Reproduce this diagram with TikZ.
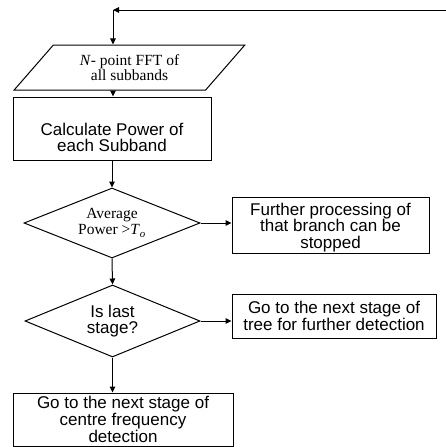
\documentclass[tikz,border=0pt]{standalone}
\usepackage{fontspec}
\setmainfont{Liberation Serif}
\newfontfamily\arialfont{Liberation Sans}
\usetikzlibrary{shapes.geometric,arrows.meta}
\tikzset{
  base/.style={draw=black, line width=1pt, align=center, inner sep=0pt},
  sansbox/.style={base, rectangle, font=\arialfont\fontsize{17}{16.7}\selectfont},
  serifbox/.style={base, font=\fontsize{15.5}{14.5}\selectfont},
  decision/.style={base, diamond, shape aspect=2.5},
  flow/.style={draw=black, line width=1pt, -{Stealth[length=6pt,width=5.5pt,inset=0pt]}}
}
\begin{document}
\begin{tikzpicture}
\fill[white] (0pt,0pt) rectangle (446pt,-447pt);
\useasboundingbox (0pt,0pt) rectangle (446pt,-447pt);
\coordinate (in) at (447pt,-10pt);
\coordinate (c) at (113pt,-10pt);
\node[serifbox, trapezium, trapezium left angle=45, trapezium right angle=135, trapezium stretches, minimum width=231pt, minimum height=45pt] (fft) at (129.5pt,-67.5pt) {\textit{N}- point FFT of\\all subbands};
\node[sansbox, minimum width=198pt, minimum height=63pt] (calc) at (112pt,-128.5pt) {\rule{0pt}{30pt}Calculate Power of\\each Subband};
\node[decision, font=\fontsize{15.5}{16}\selectfont, minimum width=176pt, minimum height=70pt] (d1) at (112pt,-223pt) {Average\\Power >\textit{T}\textsubscript{\textit{o}}};
\node[sansbox, minimum width=197pt, minimum height=56pt] (further) at (330.5pt,-225pt) {\rule{0pt}{17pt}Further processing of\\that branch can be\\stopped};
\node[decision, font=\arialfont\fontsize{17}{16.5}\selectfont, minimum width=175pt, minimum height=72pt] (d2) at (112.5pt,-321pt) {Is last\\stage?};
\node[sansbox, minimum width=204pt, minimum height=44pt] (tree) at (334pt,-316pt) {Go to the next stage of\\tree for further detection};
\node[sansbox, font=\arialfont\fontsize{17}{15}\selectfont, minimum width=220pt, minimum height=53pt] (last) at (123pt,-419.5pt) {Go to the next stage of\\centre frequency\\detection};
\draw[flow] (in) -- (c);
\draw[flow] (c) -- (c |- fft.north);
\draw[flow] (c |- fft.south) -- (c |- calc.north);
\draw[flow] (calc.south) -- (d1.north);
\draw[flow] (d1.east) -- (d1.east -| further.west);
\draw[flow] (d1.south) -- (d2.north);
\draw[flow] (d2.east) -- (d2.east -| tree.west);
\draw[flow] (d2.south) -- (d2.south |- last.north);
\end{tikzpicture}
\end{document}
